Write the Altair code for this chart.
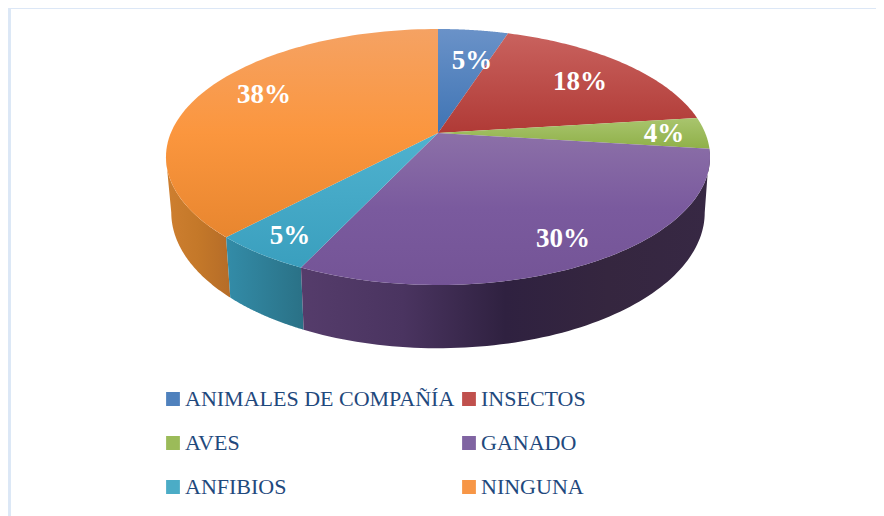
import math
import altair as alt
import pandas as pd

categories = ["ANIMALES DE COMPAÑÍA", "INSECTOS", "AVES", "GANADO", "ANFIBIOS", "NINGUNA"]
values = [5, 18, 4, 30, 5, 38]
labels = ["5%", "18%", "4%", "30%", "5%", "38%"]
legend_order = ["ANIMALES DE COMPAÑÍA", "AVES", "ANFIBIOS", "INSECTOS", "GANADO", "NINGUNA"]
legend_colors = ["#4F81BD", "#9BBB59", "#4BACC6", "#C0504D", "#8064A2", "#F79646"]

top_stops = [
    ["#6A92C8", "#3F74B4"],
    ["#C9625E", "#B03A36"],
    ["#A9C56E", "#8FB048"],
    ["#8C70A8", "#7A5A9E", "#745496"],
    ["#4FB2CF", "#3A9FBE"],
    ["#F5A263", "#FB963E", "#E8862F"],
]
wall_stops = {
    3: ["#553C6B", "#4A3460", "#2F2140", "#35263F", "#372844"],
    4: ["#338CA8", "#2A7186"],
    5: ["#CE7F30", "#C47829", "#B56C28"],
}

label_x = [472, 580, 664, 563, 290, 264]
label_y = [61, 82, 134, 239, 236, 95]


def top_rim(theta):
    u, v = math.sin(theta), math.cos(theta)
    w = 1 + 0.1875 * v
    return [438 + 267.2 * u / w, 133 - 123.5 * v / w]


def bottom_rim(theta):
    u, v = math.sin(theta), math.cos(theta)
    w = 1 + 0.1875 * v
    return [438 + 262 * u / w, 187 - 131 * v / w]


def arc(fn, a, b, n=80):
    return [fn(a + (b - a) * i / n) for i in range(n + 1)]


def feature(ring):
    return {"type": "Feature", "properties": {},
            "geometry": {"type": "Polygon", "coordinates": [ring + [ring[0]]]}}


def grad(stops, horizontal=False):
    n = len(stops) - 1
    st = [alt.GradientStop(offset=i / n, color=c) for i, c in enumerate(stops)]
    if horizontal:
        return alt.LinearGradient(gradient="linear", stops=st, x1=0, x2=1, y1=0, y2=0)
    return alt.LinearGradient(gradient="linear", stops=st, x1=0, x2=0, y1=0, y2=1)


proj = dict(type="identity", scale=1, translate=[-8, -8])

total = sum(values)
spans, c = [], 0
for v in values:
    spans.append((c / total * 2 * math.pi, (c + v) / total * 2 * math.pi))
    c += v

# angles where the rim reaches its widest points: the wall's silhouette runs between them
edge_right = math.radians(100.8)
edge_left = math.radians(259.2)

layers = []
for i in (5, 4, 3):
    a, b = spans[i]
    if i == 5:
        ring = arc(top_rim, a, edge_left) + arc(bottom_rim, edge_left, a)
    elif i == 3:
        ring = arc(top_rim, a, b) + arc(bottom_rim, b, edge_right)
    else:
        ring = arc(top_rim, a, b) + arc(bottom_rim, b, a)
    layers.append(
        alt.Chart(alt.InlineData(values=[feature(ring)], format=alt.DataFormat(type="json")))
        .mark_geoshape(fill=grad(wall_stops[i], True), strokeWidth=0)
        .project(**proj)
    )
# top faces
for i in range(6):
    a, b = spans[i]
    ring = [[438.0, 133.0]] + arc(top_rim, a, b)
    layers.append(
        alt.Chart(alt.InlineData(values=[feature(ring)], format=alt.DataFormat(type="json")))
        .mark_geoshape(fill=grad(top_stops[i]), strokeWidth=0)
        .project(**proj)
    )

df = pd.DataFrame({"cat": categories, "label": labels, "x": [p - 8 for p in label_x],
                   "y": [p - 8 for p in label_y]})

x_scale = alt.Scale(domain=[0, 868], range=[0, 868])
y_scale = alt.Scale(domain=[0, 508], range=[0, 508])

text = alt.Chart(df).mark_text(
    font="Liberation Serif", fontSize=27, fontWeight="bold", color="white",
    align="center", baseline="middle",
).encode(x=alt.X("x:Q", scale=x_scale, axis=None), y=alt.Y("y:Q", scale=y_scale, axis=None), text="label:N")

legend = alt.Chart(df).mark_square(size=0, opacity=1).encode(
    x=alt.X("x:Q", scale=x_scale, axis=None),
    y=alt.Y("y:Q", scale=y_scale, axis=None),
    color=alt.Color(
        "cat:N",
        sort=legend_order,
        scale=alt.Scale(domain=legend_order, range=legend_colors),
        legend=alt.Legend(
            title=None, orient="none", legendX=154, legendY=378, columns=2,
            symbolType="square", symbolSize=190, symbolStrokeWidth=0, symbolOpacity=1,
            labelFont="Liberation Serif", labelFontSize=22, labelColor="#1F497D",
            labelOffset=1, labelLimit=400, rowPadding=18, columnPadding=3,
            symbolOffset=0, clipHeight=26,
        ),
    ),
)

frame_top = alt.Chart(df).mark_rule(color="#DCE7F6", strokeWidth=2).encode(
    x=alt.value(1), x2=alt.value(868), y=alt.value(0))
frame_left = alt.Chart(df).mark_rule(color="#DCE7F6", strokeWidth=2).encode(
    x=alt.value(1.5), y=alt.value(0), y2=alt.value(508))

chart = alt.layer(frame_top, frame_left, *layers, text, legend).properties(
    width=868, height=508, padding=0, autosize=alt.AutoSizeParams(type="none")
).configure_view(stroke=None)

chart.save("out.html", embed_options={"renderer": "svg", "actions": False})
